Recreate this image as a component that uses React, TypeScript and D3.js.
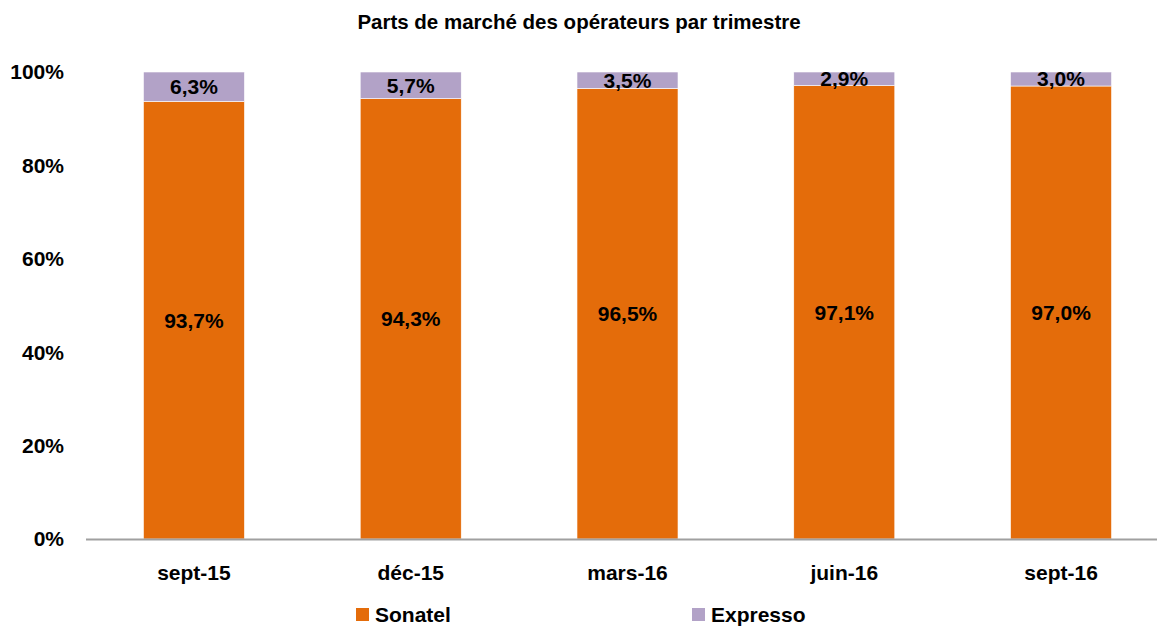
import React from "react";
import * as d3 from "d3";

const categories = ["sept-15", "déc-15", "mars-16", "juin-16", "sept-16"];
const sonatel = [93.7, 94.3, 96.5, 97.1, 97.0];
const expresso = [6.3, 5.7, 3.5, 2.9, 3.0];
const yTicks = [0, 20, 40, 60, 80, 100];
const seriesNames = ["Sonatel", "Expresso"];
const colors = ["#E46C0A", "#B2A2C7"];

const W = 1157;
const H = 627;
const FONT = "'Liberation Sans', Arial, sans-serif";
const FS = 21;

const fmt = (v: number) => v.toFixed(1).replace(".", ",") + "%";

export default function App() {
  const x = d3
    .scaleBand<string>()
    .domain(categories)
    .range([86, 1169])
    .paddingInner(0.534)
    .paddingOuter(0.265);
  const y = d3.scaleLinear().domain([0, 100]).range([539, 72]);

  const rows = categories.map((c, i) => ({ cat: c, Sonatel: sonatel[i], Expresso: expresso[i] }));
  const stack = d3.stack<any>().keys(seriesNames)(rows);

  return (
    <div style={{ position: "absolute", left: 0, top: 0 }}>
      <svg width={W} height={H} style={{ display: "block", background: "#fff" }}>
        <text x={579} y={22} dy="0.35em" textAnchor="middle" fontFamily={FONT} fontWeight="bold" fontSize={20.5} fill="#000">
          Parts de marché des opérateurs par trimestre
        </text>
        {yTicks.map((t) => (
          <text key={t} x={64} y={y(t)} dy="0.35em" textAnchor="end" fontFamily={FONT} fontWeight="bold" fontSize={FS} fill="#000">
            {t}%
          </text>
        ))}
        {stack.map((s, si) =>
          s.map((d, i) => (
            <rect
              key={si + "-" + i}
              x={x(categories[i])!}
              y={y(d[1])}
              width={x.bandwidth()}
              height={y(d[0]) - y(d[1])}
              fill={colors[si]}
              stroke="#fff"
              strokeWidth={0.6}
            />
          ))
        )}
        <line x1={86} x2={1169} y1={539.5} y2={539.5} stroke="#A0A0A0" strokeWidth={2} />
        {stack.map((s, si) =>
          s.map((d, i) => (
            <text
              key={"l" + si + "-" + i}
              x={x(categories[i])! + x.bandwidth() / 2}
              y={(y(d[0]) + y(d[1])) / 2}
              dy="0.35em"
              textAnchor="middle"
              fontFamily={FONT}
              fontWeight="bold"
              fontSize={FS}
              fill="#000"
            >
              {fmt(si === 0 ? sonatel[i] : expresso[i])}
            </text>
          ))
        )}
        {categories.map((c) => (
          <text key={c} x={x(c)! + x.bandwidth() / 2} y={573} dy="0.35em" textAnchor="middle" fontFamily={FONT} fontWeight="bold" fontSize={FS} fill="#000">
            {c}
          </text>
        ))}
        {seriesNames.map((n, i) => {
          const lx = [356, 692][i];
          return (
            <g key={n}>
              <rect x={lx} y={608} width={13} height={13} fill={colors[i]} />
              <text x={lx + 19} y={615} dy="0.35em" fontFamily={FONT} fontWeight="bold" fontSize={FS} fill="#000">
                {n}
              </text>
            </g>
          );
        })}
      </svg>
    </div>
  );
}
